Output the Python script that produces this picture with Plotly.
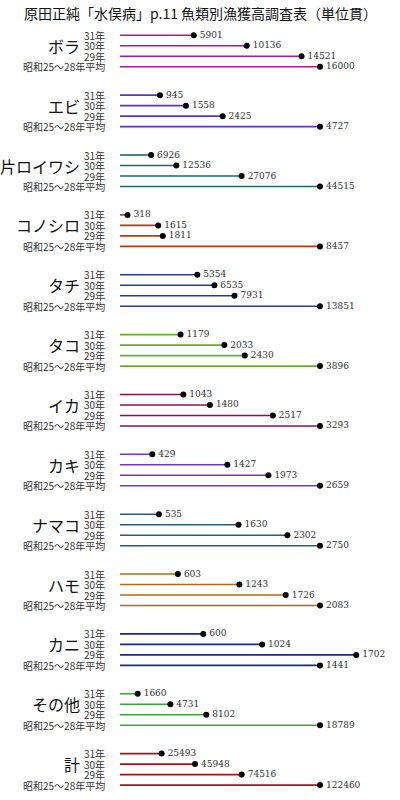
import plotly.graph_objects as go

# 魚類別漁獲高（単位貫）
fish = ["ボラ", "エビ", "片ロイワシ", "コノシロ", "タチ", "タコ", "イカ",
        "カキ", "ナマコ", "ハモ", "カニ", "その他", "計"]
years = ["31年", "30年", "29年", "昭和25～28年平均"]

y31 = [5901, 945, 6926, 318, 5354, 1179, 1043, 429, 535, 603, 600, 1660, 25493]
y30 = [10136, 1558, 12536, 1615, 6535, 2033, 1480, 1427, 1630, 1243, 1024, 4731, 45948]
y29 = [14521, 2425, 27076, 1811, 7931, 2430, 2517, 1973, 2302, 1726, 1702, 8102, 74516]
avg = [16000, 4727, 44515, 8457, 13851, 3896, 3293, 2659, 2750, 2083, 1441, 18789, 122460]

colors = ["#b0189c", "#5a34c4", "#1a6a68", "#b43c10", "#2c3c8c", "#6aac2c",
          "#8c1050", "#7a34c4", "#2c5a7a", "#b06a14", "#1c2a8c", "#3aa83a", "#a01818"]

GROUP_STEP = 59.86
ROW_STEP = 10.5
TOP = 35.3

fig = go.Figure()
annotations = []

for g, name in enumerate(fish):
    vals = [y31[g], y30[g], y29[g], avg[g]]
    base = avg[g]
    xs, ys, mx, my, txt = [], [], [], [], []
    for r, v in enumerate(vals):
        yy = g * GROUP_STEP + r * ROW_STEP
        xs += [0, v / base, None]
        ys += [yy, yy, None]
        mx.append(v / base)
        my.append(yy)
        txt.append(str(v))
        annotations.append(dict(
            x=-0.065, y=yy, xref="x", yref="y", text=years[r],
            xanchor="right", yanchor="middle", showarrow=False,
            font=dict(family="Noto Sans CJK JP", size=10, color="#333333")))
    fig.add_trace(go.Scatter(x=xs, y=ys, mode="lines",
                             line=dict(color=colors[g], width=1.6),
                             hoverinfo="skip", showlegend=False))
    fig.add_trace(go.Scatter(x=mx, y=my, mode="markers",
                             marker=dict(color="black", size=6),
                             showlegend=False))
    fig.add_trace(go.Scatter(x=[v + 0.03 for v in mx], y=my, mode="text", text=txt,
                             textposition="middle right",
                             textfont=dict(family="DejaVu Serif Condensed", size=10, color="#333333"),
                             hoverinfo="skip", showlegend=False))
    annotations.append(dict(
        x=-0.19, y=g * GROUP_STEP + 1.0 * ROW_STEP, xref="x", yref="y", text=name,
        xanchor="right", yanchor="middle", showarrow=False,
        font=dict(family="Noto Sans CJK JP", size=16, color="#111111")))

annotations.append(dict(
    x=0.5, y=1 - 13 / 800, xref="paper", yref="paper",
    text="原田正純「水俣病」p.11 魚類別漁獲高調査表（単位貫）",
    xanchor="center", yanchor="middle", showarrow=False,
    font=dict(family="Noto Sans CJK JP", size=14, color="#111111")))

fig.update_layout(
    width=400, height=800,
    margin=dict(l=0, r=0, t=0, b=0),
    plot_bgcolor="white", paper_bgcolor="white",
    xaxis=dict(range=[-0.6, 1.4], visible=False, fixedrange=True),
    yaxis=dict(range=[800 - TOP, -TOP], visible=False, fixedrange=True),
    annotations=annotations,
)

fig.write_html("out.html", config={"displayModeBar": False},
               post_script="document.body.style.margin='0';")
